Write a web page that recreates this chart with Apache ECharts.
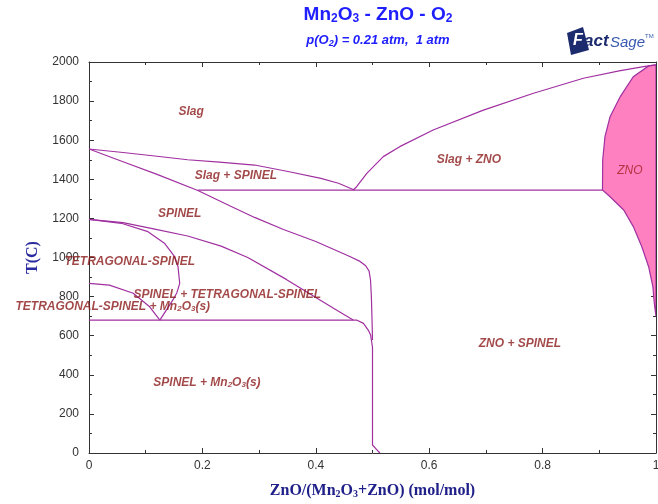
<!DOCTYPE html>
<html><head><meta charset="utf-8">
<script src="https://cdn.jsdelivr.net/npm/echarts@6/dist/echarts.min.js"></script>
<style>html,body{margin:0;padding:0;background:#fff}#c{width:658px;height:504px}</style>
</head><body><div id="c"></div>
<script>
// ---- data (composition x = ZnO/(Mn2O3+ZnO), T in C) ----
const liquidusSpinel = [[0,1555],[0.06,1537],[0.12,1518],[0.174,1500],[0.23,1488],[0.292,1473],[0.351,1440],[0.409,1405],[0.44,1380],[0.468,1345]];
const solidusSpinel = [[0,1555],[0.06,1490],[0.12,1425],[0.192,1343],[0.25,1262],[0.292,1205],[0.343,1143],[0.40,1082],[0.431,1042],[0.46,1005],[0.478,980],[0.488,958],[0.494,930],[0.4965,885],[0.498,800],[0.499,700],[0.4997,620],[0.5,578]];
const spinelLower = [[0,1195],[0.06,1178],[0.116,1145],[0.174,1110],[0.233,1058],[0.28,1000],[0.348,888],[0.40,795],[0.44,725],[0.466,680]];
const tetragonalBoundary = [[0,1195],[0.057,1175],[0.104,1132],[0.133,1073],[0.151,1004],[0.157,953],[0.16,868],[0.155,820],[0.148,783],[0.125,680]];
const mn2o3Boundary = [[0,868],[0.036,859],[0.078,817],[0.107,748],[0.125,680]];
const eutectoidLine = [[0,680],[0.472,680],[0.484,663],[0.4925,629],[0.4967,603],[0.4985,569],[0.5,540],[0.5,41],[0.5013,33],[0.507,19],[0.513,0]];
const eutecticLine = [[0.192,1345],[0.9056,1345]];
const liquidusZnO = [[0.466,1345],[0.472,1362],[0.49,1430],[0.519,1516],[0.548,1567],[0.607,1652],[0.6955,1754],[0.784,1840],[0.872,1917],[0.935,1955],[0.978,1976],[1,1985]];
const znoRegion = [[1,1985],[0.987,1980],[0.96,1925],[0.937,1823],[0.919,1720],[0.91,1618],[0.906,1499],[0.9056,1345],[0.919,1311],[0.943,1243],[0.96,1158],[0.975,1055],[0.987,953],[0.9945,851],[0.997,766],[0.999,720],[1,700]];

const labelNames = ['Slag','Slag + SPINEL','Slag + ZNO','SPINEL','TETRAGONAL-SPINEL','SPINEL + TETRAGONAL-SPINEL','TETRAGONAL-SPINEL + Mn{s|2}O{s|3}(s)','ZNO + SPINEL','SPINEL + Mn{s|2}O{s|3}(s)'];
const labelPos = [[0.18,1744],[0.259,1417],[0.670,1499],[0.160,1222],[0.072,977],[0.244,808],[0.042,747],[0.760,558],[0.208,358]];
const znoLabel = ['ZNO'];
const znoLabelPos = [[0.954,1442]];

const xMin = 0, xMax = 1, xStep = 0.2, xMinorStep = 0.1;
const yMin = 0, yMax = 2000, yStep = 200, yMinorStep = 100;

// ---- chart ----
const chart = echarts.init(document.getElementById('c'), null, {renderer:'canvas'});
const LINE = '#a030a0';
const AX = '#333';
const SANS = 'Arial, Liberation Sans, sans-serif';
function lineSeries(data){
  return {type:'line', data, showSymbol:false, symbol:'none', smooth:false, silent:true,
    lineStyle:{color:LINE, width:1.2}, z:3, clip:true};
}
function majorAxis(extra){
  return Object.assign({
    axisLine:{show:true, onZero:false, lineStyle:{color:AX, width:1}},
    axisTick:{show:true, inside:true, length:5, lineStyle:{color:AX}},
    minorTick:{show:false}, splitLine:{show:false}
  }, extra);
}
function minorAxis(extra){
  return Object.assign({
    gridIndex:1, axisLine:{show:false, onZero:false},
    axisTick:{show:true, inside:true, length:3, lineStyle:{color:AX}},
    axisLabel:{show:false}, minorTick:{show:false}, splitLine:{show:false}
  }, extra);
}
const labelFont = {color:'#8b1a1a', fontStyle:'italic', fontWeight:'bold', fontSize:12, fontFamily:SANS};
const gridBox = {left:89, right:2, top:62, bottom:51, containLabel:false, outerBoundsMode:'none'};

chart.setOption({
  animation:false,
  backgroundColor:'#fff',
  title:[
    {text:'Mn{s|2}O{s|3} - ZnO - O{s|2}', left:373, top:0, textAlign:'center',
     textStyle:{color:'#2020ff', fontSize:19, fontWeight:'bold', fontFamily:SANS,
       rich:{s:{color:'#2020ff', fontSize:12, fontWeight:'bold', fontFamily:SANS, padding:[8,0,0,0]}}}},
    {text:'p(O{s|2}) = 0.21 atm,  1 atm', left:373, top:28, textAlign:'center',
     textStyle:{color:'#2020ff', fontSize:13, fontWeight:'bold', fontStyle:'italic', fontFamily:SANS,
       rich:{s:{color:'#2020ff', fontSize:9, fontWeight:'bold', fontStyle:'italic', fontFamily:SANS, padding:[6,0,0,0]}}}}
  ],
  grid:[gridBox, Object.assign({}, gridBox)],
  xAxis:[
    majorAxis({type:'value', gridIndex:0, min:xMin, max:xMax, interval:xStep, position:'bottom',
      axisLabel:{color:AX, fontSize:12, fontFamily:SANS, margin:7},
      name:'ZnO/(Mn{s|2}O{s|3}+ZnO) (mol/mol)', nameLocation:'middle', nameGap:30,
      nameTextStyle:{color:'#20208a', fontSize:16, fontWeight:'bold', fontFamily:'Liberation Serif, Times New Roman, serif',
        rich:{s:{color:'#20208a', fontSize:10, fontWeight:'bold', fontFamily:'Liberation Serif, serif', verticalAlign:'bottom', lineHeight:8}}}}),
    majorAxis({type:'value', gridIndex:0, min:xMin, max:xMax, interval:xStep, position:'top', axisLabel:{show:false}}),
    minorAxis({type:'value', min:xMin, max:xMax, interval:xMinorStep, position:'bottom'}),
    minorAxis({type:'value', min:xMin, max:xMax, interval:xMinorStep, position:'top'})
  ],
  yAxis:[
    majorAxis({type:'value', gridIndex:0, min:yMin, max:yMax, interval:yStep, position:'left',
      axisLabel:{color:AX, fontSize:12, fontFamily:SANS, margin:10, formatter:v=>String(v)},
      name:'T(C)', nameLocation:'middle', nameGap:48, nameRotate:90,
      nameTextStyle:{color:'#2a2aa0', fontSize:16, fontWeight:'bold', fontFamily:'Liberation Serif, Times New Roman, serif'}}),
    majorAxis({type:'value', gridIndex:0, min:yMin, max:yMax, interval:yStep, position:'right', axisLabel:{show:false}}),
    minorAxis({type:'value', min:yMin, max:yMax, interval:yMinorStep, position:'left'}),
    minorAxis({type:'value', min:yMin, max:yMax, interval:yMinorStep, position:'right'})
  ],
  series:[
    {type:'custom', silent:true, z:2, clip:true, data:[[0,0]],
     renderItem:(params, api)=>({type:'polygon', shape:{points:znoRegion.map(p=>api.coord(p))},
       style:{fill:'#ff80c0', stroke:LINE, lineWidth:1.2}})},
    lineSeries(liquidusSpinel),
    lineSeries(solidusSpinel),
    lineSeries(spinelLower),
    lineSeries(tetragonalBoundary),
    lineSeries(mn2o3Boundary),
    lineSeries(eutectoidLine),
    lineSeries(eutecticLine),
    lineSeries(liquidusZnO),
    {type:'scatter', symbolSize:0, silent:true, z:5,
     data:labelPos.map((p,i)=>({value:p, label:{formatter:labelNames[i]}})),
     label:Object.assign({show:true, position:'inside',
       rich:{s:Object.assign({}, labelFont, {fontSize:8, verticalAlign:'bottom', lineHeight:6})}}, labelFont)},
    {type:'scatter', symbolSize:0, silent:true, z:5,
     data:znoLabelPos.map((p,i)=>({value:p, label:{formatter:znoLabel[i]}})),
     label:{show:true, position:'inside', color:'#a02020', fontStyle:'italic', fontSize:12, fontFamily:SANS}}
  ],
  graphic:[
    {type:'polygon', shape:{points:[[567,33],[583,27],[589,50],[571,55]]}, style:{fill:'#1c2a6e'}},
    {type:'text', left:573, top:33, style:{text:'F', fill:'#fff', font:'italic bold 16px Arial'}},
    {type:'text', left:584, top:33, style:{text:'act', fill:'#1c2a6e', font:'italic bold 17px Arial'}},
    {type:'text', left:610, top:35, style:{text:'Sage', fill:'#3a5ab0', font:'italic 15px Arial'}},
    {type:'text', left:645, top:33, style:{text:'TM', fill:'#3a5ab0', font:'6px Arial'}}
  ]
});
</script>
</body></html>
